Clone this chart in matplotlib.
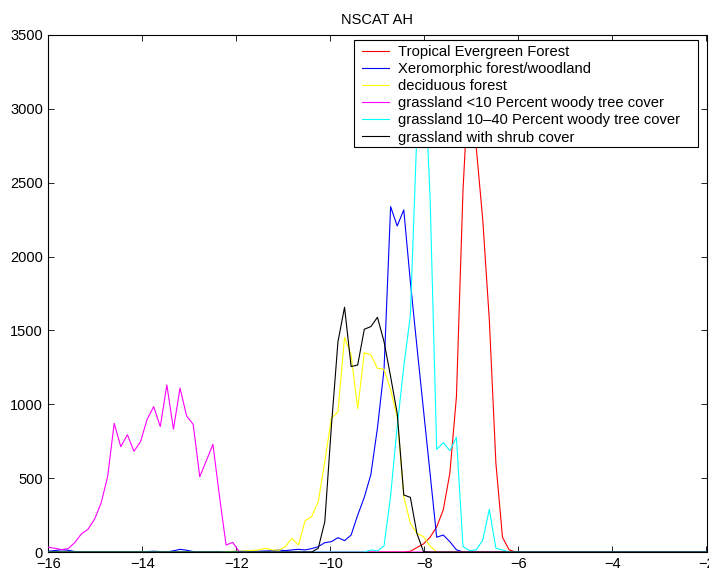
import numpy as np
import matplotlib
matplotlib.use("Agg")
import matplotlib.pyplot as plt
from matplotlib.patches import Rectangle

plt.rcParams['font.family'] = ['Liberation Sans', 'DejaVu Sans']

# bin centres (101 bins from -16 to -2)
x = np.linspace(-16, -2, 101)

labels = ["Tropical Evergreen Forest",
          "Xeromorphic forest/woodland",
          "deciduous forest",
          "grassland <10 Percent woody tree cover",
          "grassland 10\u201340 Percent woody tree cover",
          "grassland with shrub cover"]
colors = ["#ff0000", "#0000ff", "#ffff00", "#ff00ff", "#00ffff", "#000000"]

tropical = [0, 0, 0, 0, 0, 0, 0, 0, 0, 0,
            0, 0, 0, 0, 0, 0, 0, 0, 0, 0,
            0, 0, 0, 0, 0, 0, 0, 0, 0, 0,
            0, 0, 0, 0, 0, 0, 0, 0, 0, 0,
            0, 0, 0, 0, 0, 0, 0, 0, 0, 0,
            0, 0, 0, 0, 0, 5, 30, 55, 100, 170,
            285, 533, 1050, 2450, 3300, 2745, 2250, 1571, 600, 100,
            15, 0, 0, 0, 0, 0, 0, 0, 0, 0,
            0, 0, 0, 0, 0, 0, 0, 0, 0, 0,
            0, 0, 0, 0, 0, 0, 0, 0, 0, 0,
            0]

xeromorphic = [5, 10, 15, 12, 3, 0, 0, 0, 0, 0,
               0, 0, 0, 0, 0, 3, 5, 3, 0, 8,
               18, 12, 3, 0, 0, 2, 3, 2, 3, 5,
               5, 5, 5, 7, 8, 14, 9, 14, 18, 14,
               23, 36, 63, 70, 97, 77, 115, 250, 370, 525,
               840, 1235, 2338, 2207, 2316, 1830, 1390, 960, 530, 100,
               115, 70, 15, 0, 0, 0, 0, 0, 0, 0,
               0, 0, 0, 0, 0, 0, 0, 0, 0, 0,
               0, 0, 0, 0, 0, 0, 0, 0, 0, 0,
               0, 0, 0, 0, 0, 0, 0, 0, 0, 0,
               0]

deciduous = [0, 0, 0, 0, 0, 0, 0, 0, 0, 0,
             0, 0, 0, 0, 0, 0, 0, 0, 0, 0,
             0, 0, 0, 0, 0, 0, 0, 3, 5, 5,
             8, 10, 15, 25, 14, 12, 36, 93, 47, 212,
             239, 341, 612, 905, 950, 1453, 1334, 970, 1350, 1334,
             1244, 1237, 1097, 916, 375, 194, 126, 104, 40, 0,
             0, 0, 0, 0, 0, 0, 0, 0, 0, 0,
             0, 0, 0, 0, 0, 0, 0, 0, 0, 0,
             0, 0, 0, 0, 0, 0, 0, 0, 0, 0,
             0, 0, 0, 0, 0, 0, 0, 0, 0, 0,
             0]

grass_lt10 = [32, 25, 16, 23, 63, 122, 153, 221, 330, 510,
              871, 713, 794, 682, 747, 898, 984, 849, 1131, 831,
              1110, 921, 864, 510, 618, 729, 375, 47, 65, 2,
              0, 0, 0, 0, 0, 0, 0, 0, 0, 0,
              0, 0, 0, 0, 0, 0, 0, 0, 0, 0,
              0, 0, 0, 0, 0, 0, 0, 0, 0, 0,
              0, 0, 0, 0, 0, 0, 0, 0, 0, 0,
              0, 0, 0, 0, 0, 0, 0, 0, 0, 0,
              0, 0, 0, 0, 0, 0, 0, 0, 0, 0,
              0, 0, 0, 0, 0, 0, 0, 0, 0, 0,
              0]

grass_10_40 = [0, 0, 0, 0, 0, 0, 0, 0, 0, 0,
               0, 0, 0, 0, 0, 0, 0, 0, 0, 0,
               0, 0, 0, 0, 0, 0, 0, 0, 0, 0,
               0, 0, 0, 0, 0, 0, 0, 0, 0, 0,
               0, 0, 0, 0, 0, 0, 0, 0, 0, 14,
               7, 41, 380, 850, 1255, 1600, 2850, 3400, 2400, 695,
               740, 686, 776, 36, 9, 14, 81, 289, 25, 14,
               0, 0, 0, 0, 0, 0, 0, 0, 0, 0,
               0, 0, 0, 0, 0, 0, 0, 0, 0, 0,
               0, 0, 0, 0, 0, 0, 0, 0, 0, 0,
               0]

grass_shrub = [0, 0, 0, 0, 0, 0, 0, 0, 0, 0,
               0, 0, 0, 0, 0, 0, 0, 0, 0, 0,
               0, 0, 0, 0, 0, 0, 0, 0, 0, 0,
               0, 0, 0, 0, 0, 0, 0, 0, 0, 0,
               0, 25, 205, 850, 1424, 1657, 1255, 1266, 1508, 1526,
               1589, 1424, 1187, 939, 386, 370, 125, 2, 0, 0,
               0, 0, 0, 0, 0, 0, 0, 0, 0, 0,
               0, 0, 0, 0, 0, 0, 0, 0, 0, 0,
               0, 0, 0, 0, 0, 0, 0, 0, 0, 0,
               0, 0, 0, 0, 0, 0, 0, 0, 0, 0,
               0]

series = [tropical, xeromorphic, deciduous, grass_lt10, grass_10_40, grass_shrub]

x_ticks = [-16, -14, -12, -10, -8, -6, -4, -2]
y_ticks = [0, 500, 1000, 1500, 2000, 2500, 3000, 3500]

W, H = 709, 578
fig = plt.figure(figsize=(W / 100, H / 100), dpi=100)
ax = fig.add_axes([48.4 / W, 26 / H, (706.5 - 48.4) / W, (552 - 35) / H])

handles = []
for vals, c, lab in zip(series, colors, labels):
    ln, = ax.plot(x, vals, color=c, lw=0.8, label=lab, zorder=3)
    handles.append(ln)

ax.set_xlim(-16, -2)
ax.set_ylim(0, 3500)
ax.set_xticks(x_ticks)
ax.set_yticks(y_ticks)
ax.tick_params(direction='in', length=4, width=0.6, top=True, right=True,
               labelsize=10.5, pad=4)
ax.tick_params(axis='x', pad=3.5)
for s in ax.spines.values():
    s.set_linewidth(0.8)
ax.set_title("NSCAT AH", fontsize=10.5, pad=8)

# legend frame
fig.patches.append(Rectangle((354 / W, 1 - 147 / H), (698 - 354) / W, (147 - 40) / H,
                             transform=fig.transFigure, facecolor='white',
                             edgecolor='black', lw=0.8, zorder=4))
leg = fig.legend(handles, labels, loc='upper left',
                 bbox_to_anchor=(362 / W, 1 - 44.7 / H),
                 frameon=False, borderpad=0, borderaxespad=0,
                 handlelength=1.85, handletextpad=0.6, labelspacing=0.215,
                 fontsize=10.6)
leg.set_zorder(5)

fig.savefig("out.png", dpi=100)
